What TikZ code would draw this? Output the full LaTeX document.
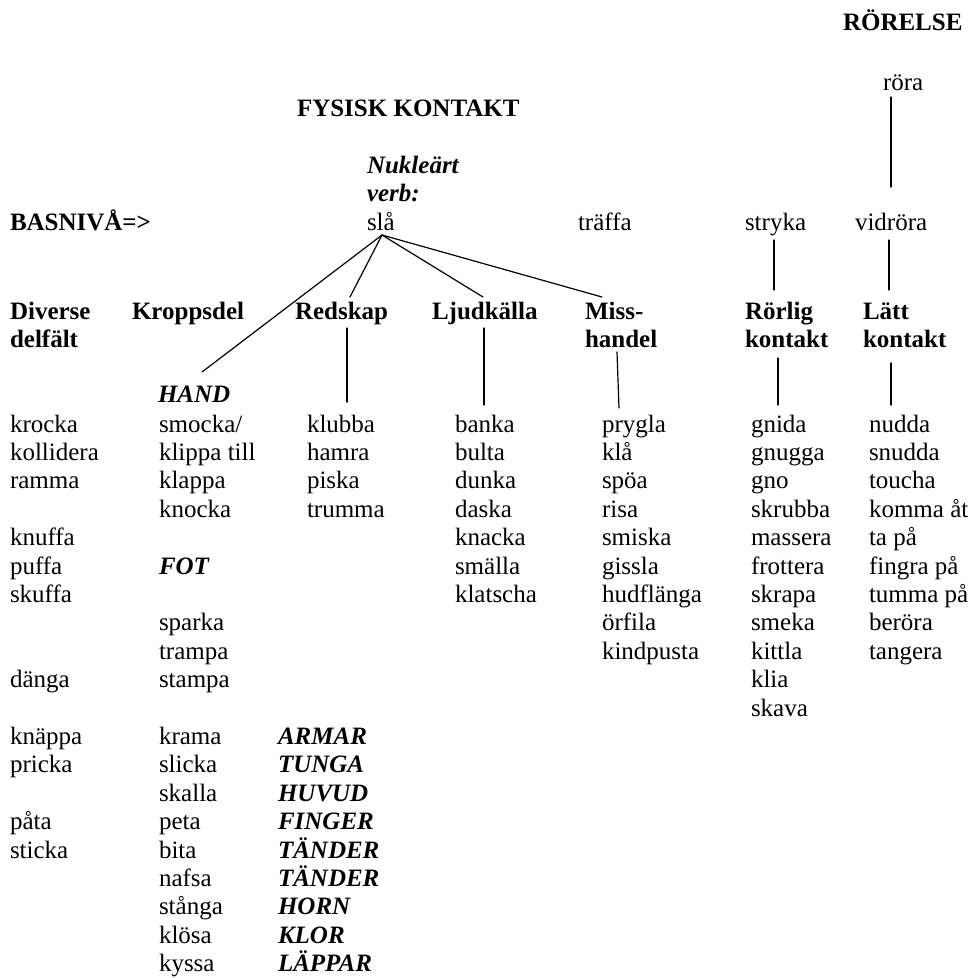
\documentclass[tikz,border=0pt]{standalone}
\usepackage{fontspec}
\setmainfont{Liberation Serif}
\newcommand\fsz{\fontsize{25}{28.4}\selectfont}
\tikzset{
  word/.style={inner sep=0pt, outer sep=0pt, anchor=base west, font=\fsz},
  hdr/.style={word, font=\fsz\bfseries},
  bpart/.style={word, font=\fsz\bfseries\itshape},
  link/.style={line width=1.2pt, line cap=round}
}
\newcommand\putw[5][word]{\node[#1] (#2) at (#3, {432+28.4*#4}) {#5};}
\begin{document}
\begin{tikzpicture}[x=1pt,y=-1pt]
\useasboundingbox (0,0) rectangle (976,978);
% top
\node[hdr] (rorelse) at (843,30) {RÖRELSE};
\node[word] (rora) at (883,90) {röra};
\node[hdr] (fysisk) at (297,116) {FYSISK KONTAKT};
\node[bpart] (nuk) at (367,173) {Nukleärt};
\node[bpart] (verb) at (367,201.5) {verb:};
\node[word] (sla) at (367,230) {slå};
\node[hdr] (basniva) at (10,230) {BASNIVÅ=>};
\node[word] (traffa) at (578,230) {träffa};
\node[word] (stryka) at (745,230) {stryka};
\node[word] (vidrora) at (855,230) {vidröra};
% headers
\node[hdr] (diverse) at (10,319) {Diverse};
\node[hdr] (delfalt) at (10,347) {delfält};
\node[hdr] (kroppsdel) at (132,319) {Kroppsdel};
\node[hdr] (redskap) at (295,319) {Redskap};
\node[hdr] (ljud) at (432,319) {Ljudkälla};
\node[hdr] (miss) at (585,319) {Miss-};
\node[hdr] (handel) at (585,347) {handel};
\node[hdr] (rorlig) at (745,319) {Rörlig};
\node[hdr] (kontaktA) at (745,347) {kontakt};
\node[hdr] (latt) at (863,319) {Lätt};
\node[hdr] (kontaktB) at (863,347) {kontakt};
\node[bpart] (hand) at (158,402) {HAND};
% column 1
\putw{a0}{10}{0}{krocka}
\putw{a1}{10}{1}{kollidera}
\putw{a2}{10}{2}{ramma}
\putw{a4}{10}{4}{knuffa}
\putw{a5}{10}{5}{puffa}
\putw{a6}{10}{6}{skuffa}
\putw{a9}{10}{9}{dänga}
\putw{a11}{10}{11}{knäppa}
\putw{a12}{10}{12}{pricka}
\putw{a14}{10}{14}{påta}
\putw{a15}{10}{15}{sticka}
% column 2
\putw{b0}{159}{0}{smocka/}
\putw{b1}{159}{1}{klippa till}
\putw{b2}{159}{2}{klappa}
\putw{b3}{159}{3}{knocka}
\putw[bpart]{b5}{159}{5}{FOT}
\putw{b7}{159}{7}{sparka}
\putw{b8}{159}{8}{trampa}
\putw{b9}{159}{9}{stampa}
\putw{b11}{159}{11}{krama}
\putw{b12}{159}{12}{slicka}
\putw{b13}{159}{13}{skalla}
\putw{b14}{159}{14}{peta}
\putw{b15}{159}{15}{bita}
\putw{b16}{159}{16}{nafsa}
\putw{b17}{159}{17}{stånga}
\putw{b18}{159}{18}{klösa}
\putw{b19}{159}{19}{kyssa}
% column 3
\putw{c0}{307}{0}{klubba}
\putw{c1}{307}{1}{hamra}
\putw{c2}{307}{2}{piska}
\putw{c3}{307}{3}{trumma}
\putw[bpart]{p11}{278}{11}{ARMAR}
\putw[bpart]{p12}{278}{12}{TUNGA}
\putw[bpart]{p13}{278}{13}{HUVUD}
\putw[bpart]{p14}{278}{14}{FINGER}
\putw[bpart]{p15}{278}{15}{TÄNDER}
\putw[bpart]{p16}{278}{16}{TÄNDER}
\putw[bpart]{p17}{278}{17}{HORN}
\putw[bpart]{p18}{278}{18}{KLOR}
\putw[bpart]{p19}{278}{19}{LÄPPAR}
% column 4
\putw{d0}{455}{0}{banka}
\putw{d1}{455}{1}{bulta}
\putw{d2}{455}{2}{dunka}
\putw{d3}{455}{3}{daska}
\putw{d4}{455}{4}{knacka}
\putw{d5}{455}{5}{smälla}
\putw{d6}{455}{6}{klatscha}
% column 5
\putw{e0}{602}{0}{prygla}
\putw{e1}{602}{1}{klå}
\putw{e2}{602}{2}{spöa}
\putw{e3}{602}{3}{risa}
\putw{e4}{602}{4}{smiska}
\putw{e5}{602}{5}{gissla}
\putw{e6}{602}{6}{hudflänga}
\putw{e7}{602}{7}{örfila}
\putw{e8}{602}{8}{kindpusta}
% column 6
\putw{f0}{751}{0}{gnida}
\putw{f1}{751}{1}{gnugga}
\putw{f2}{751}{2}{gno}
\putw{f3}{751}{3}{skrubba}
\putw{f4}{751}{4}{massera}
\putw{f5}{751}{5}{frottera}
\putw{f6}{751}{6}{skrapa}
\putw{f7}{751}{7}{smeka}
\putw{f8}{751}{8}{kittla}
\putw{f9}{751}{9}{klia}
\putw{f10}{751}{10}{skava}
% column 7
\putw{g0}{869}{0}{nudda}
\putw{g1}{869}{1}{snudda}
\putw{g2}{869}{2}{toucha}
\putw{g3}{869}{3}{komma åt}
\putw{g4}{869}{4}{ta på}
\putw{g5}{869}{5}{fingra på}
\putw{g6}{869}{6}{tumma på}
\putw{g7}{869}{7}{beröra}
\putw{g8}{869}{8}{tangera}
% connectors
\coordinate (v) at ([xshift=15pt,yshift=-5pt]sla.base west);
\draw[link] (v) -- ([xshift=44pt,yshift=30pt]hand.base west);
\draw[link] (v) -- ([xshift=55pt,yshift=22pt]redskap.base west);
\draw[link] (v) -- ([xshift=51pt,yshift=22pt]ljud.base west);
\draw[link] (v) -- ([xshift=17pt,yshift=22pt]miss.base west);
\draw[link] ([xshift=8pt,yshift=-7pt]rora.base west) -- ([xshift=36pt,yshift=43pt]vidrora.base west);
\draw[link] ([xshift=29pt,yshift=-10pt]stryka.base west) -- ([xshift=29pt,yshift=29pt]rorlig.base west);
\draw[link] ([xshift=34pt,yshift=-10pt]vidrora.base west) -- ([xshift=26pt,yshift=29pt]latt.base west);
\draw[link] ([xshift=52pt,yshift=-9pt]redskap.base west) -- ([xshift=40pt,yshift=30pt]c0.base west);
\draw[link] ([xshift=52pt,yshift=-9pt]ljud.base west) -- ([xshift=29pt,yshift=27pt]d0.base west);
\draw[link] ([xshift=32pt,yshift=-5pt]handel.base west) -- ([xshift=17pt,yshift=24pt]e0.base west);
\draw[link] ([xshift=33pt,yshift=-11pt]kontaktA.base west) -- ([xshift=27pt,yshift=27pt]f0.base west);
\draw[link] ([xshift=28pt,yshift=-16pt]kontaktB.base west) -- ([xshift=22pt,yshift=27pt]g0.base west);
\end{tikzpicture}
\end{document}
